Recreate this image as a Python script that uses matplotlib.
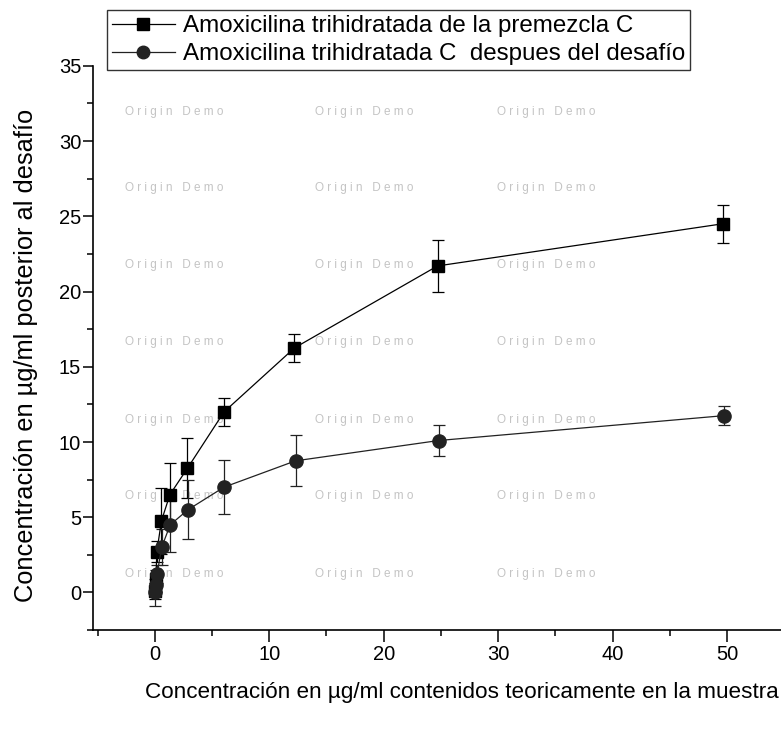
import matplotlib.pyplot as plt
from matplotlib.lines import Line2D
from matplotlib.ticker import MultipleLocator

plt.rcParams['font.family'] = ['Liberation Sans', 'DejaVu Sans']

# premezcla C (squares)
x_premezcla = [0.05, 0.1, 0.18, 0.58, 1.32, 2.85, 6.05, 12.2, 24.7, 49.6]
y_premezcla = [0.1, 0.9, 2.7, 4.75, 6.5, 8.25, 12.0, 16.25, 21.7, 24.5]
err_premezcla = [0.5, 0.6, 0.7, 2.2, 2.1, 2.0, 0.95, 0.95, 1.7, 1.25]

# despues del desafio (circles)
x_desafio = [0.05, 0.1, 0.2, 0.6, 1.35, 2.9, 6.05, 12.3, 24.8, 49.7]
y_desafio = [0.0, 0.5, 1.2, 3.0, 4.5, 5.5, 7.0, 8.75, 10.1, 11.75]
err_desafio = [0.9, 0.5, 0.6, 1.2, 1.8, 1.95, 1.8, 1.7, 1.0, 0.65]

label_premezcla = 'Amoxicilina trihidratada de la premezcla C'
label_desafio = 'Amoxicilina trihidratada C  despues del desafío'

fig = plt.figure(figsize=(7.81, 7.31), dpi=100)
ax = fig.add_axes([0.119, 0.138, 0.881, 0.772])

# faint "Origin Demo" watermark left by the original software, kept under the data
for yy in [0.847, 0.743, 0.637, 0.532, 0.426, 0.321, 0.215]:
    for xx in [0.16, 0.403, 0.636]:
        ax.text(xx, yy, 'O r i g i n   D e m o', fontsize=8.5, color='#c4c4c4',
                va='center', ha='left', transform=fig.transFigure, zorder=0.5)

ax.errorbar(x_premezcla, y_premezcla, yerr=err_premezcla, color='black',
            marker='s', markersize=8, linewidth=0.9, elinewidth=0.9,
            capsize=4, capthick=0.9, zorder=3)
ax.errorbar(x_desafio, y_desafio, yerr=err_desafio, color='#222222',
            marker='o', markersize=9.5, linewidth=0.9, elinewidth=0.9,
            capsize=4, capthick=0.9, zorder=3)

ax.set_xlim(-5.4, 54.7)
ax.set_ylim(-2.5, 35)
ax.xaxis.set_major_locator(MultipleLocator(10))
ax.xaxis.set_minor_locator(MultipleLocator(5))
ax.yaxis.set_major_locator(MultipleLocator(5))
ax.yaxis.set_minor_locator(MultipleLocator(2.5))
ax.tick_params(axis='x', which='major', direction='out', length=8.5, width=1.1,
               labelsize=14.5, pad=2)
ax.tick_params(axis='x', which='minor', direction='out', length=4.3, width=1.1)
ax.tick_params(axis='y', which='major', direction='out', length=7, width=1.1,
               labelsize=14.5, pad=1.5)
ax.tick_params(axis='y', which='minor', direction='out', length=4, width=1.1)

ax.spines['top'].set_visible(False)
ax.spines['right'].set_visible(False)
ax.spines['left'].set_linewidth(1.2)
ax.spines['bottom'].set_linewidth(1.2)

ax.set_ylabel('Concentración en µg/ml posterior al desafío', fontsize=18.3)
ax.yaxis.set_label_coords(-0.08, 0.487)
fig.text(0.592, 0.052, 'Concentración en µg/ml contenidos teoricamente en la muestra',
         fontsize=16.2, ha='center', va='center')

handles = [
    Line2D([], [], color='black', marker='s', markersize=8, linewidth=0.9),
    Line2D([], [], color='#222222', marker='o', markersize=9, linewidth=0.9),
]
leg = ax.legend(handles, [label_premezcla, label_desafio], loc='upper left',
                bbox_to_anchor=(0.137, 0.986), bbox_transform=fig.transFigure,
                borderaxespad=0, fontsize=17.4, frameon=True, fancybox=False,
                handlelength=2.6, handletextpad=0.35, labelspacing=0.25,
                borderpad=0.2)
leg.get_frame().set_edgecolor('black')
leg.get_frame().set_linewidth(1.0)

fig.savefig('out.png', dpi=100)
